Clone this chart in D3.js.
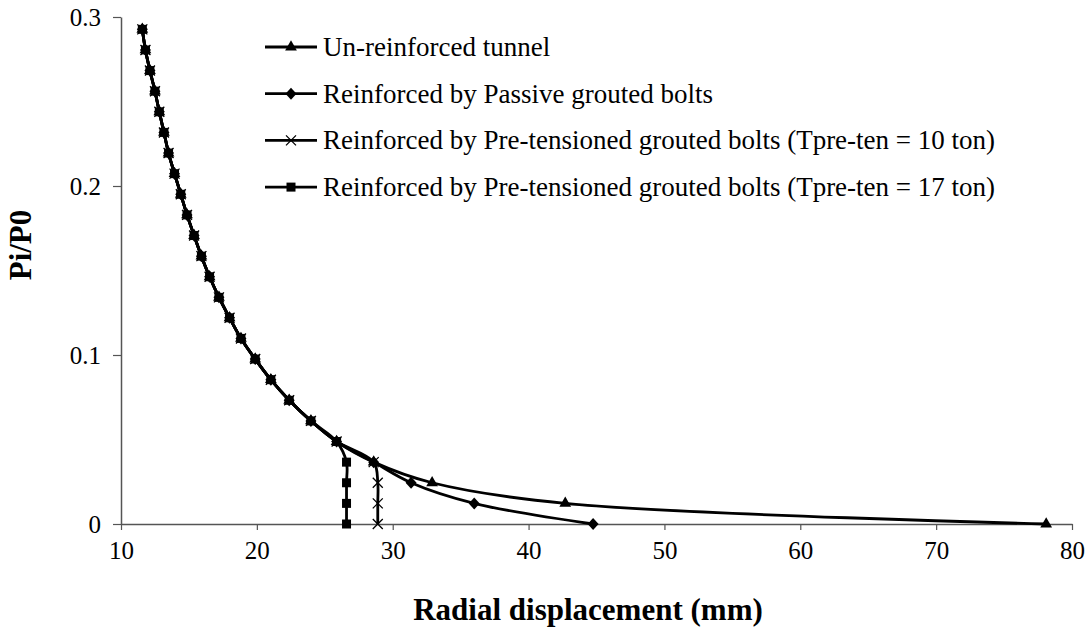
<!DOCTYPE html>
<html>
<head>
<meta charset="utf-8">
<script src="https://cdn.jsdelivr.net/npm/d3@7"></script>
<style>
  html, body { margin: 0; padding: 0; background: #fff; }
  svg { display: block; }
</style>
</head>
<body>
<div id="chart"></div>
<script>
// shared part of the curve (Pi/P0 from top down, radial displacement in mm)
const COMMON_PRESSURE = [0.2927, 0.2805, 0.2683, 0.2561, 0.2439, 0.2317, 0.2195, 0.2073, 0.1951, 0.1829,
  0.1707, 0.1585, 0.1463, 0.1341, 0.1220, 0.1098, 0.0976, 0.0854, 0.0732, 0.0610, 0.0488]
const COMMON_DISP = [11.57, 11.80, 12.13, 12.50, 12.82, 13.16, 13.50, 13.94, 14.40, 14.86,
  15.38, 15.92, 16.52, 17.21, 17.99, 18.83, 19.88, 21.03, 22.38, 23.98, 25.87]

// tail of each curve after it leaves the shared part
const TAIL_PRESSURE = [0.0366, 0.0244, 0.0122, 0]
const UNREINFORCED_TAIL = [28.6, 32.9, 42.7, 78.1]
const PASSIVE_TAIL = [28.6, 31.35, 36.0, 44.75]
const PRETEN10_TAIL = [28.6, 28.9, 28.9, 28.9]
const PRETEN17_TAIL = [26.6, 26.6, 26.6, 26.6]

const SERIES_NAMES = [
  'Un-reinforced tunnel',
  'Reinforced by Passive grouted bolts',
  'Reinforced by Pre-tensioned grouted bolts (Tpre-ten = 10 ton)',
  'Reinforced by Pre-tensioned grouted bolts (Tpre-ten = 17 ton)'
]
const SERIES_MARKERS = ['triangle', 'diamond', 'cross', 'square']

const X_TICKS = [10, 20, 30, 40, 50, 60, 70, 80]
const Y_TICKS = [0, 0.1, 0.2, 0.3]

const tails = [UNREINFORCED_TAIL, PASSIVE_TAIL, PRETEN10_TAIL, PRETEN17_TAIL]
const series = SERIES_NAMES.map((name, i) => ({
  name,
  marker: SERIES_MARKERS[i],
  points: COMMON_DISP.map((d, j) => ({ x: d, y: COMMON_PRESSURE[j] }))
    .concat(tails[i].map((d, j) => ({ x: d, y: TAIL_PRESSURE[j] })))
}))

const width = 1091
const height = 632
const font = '"Liberation Serif", "Times New Roman", serif'

const svg = d3.select('#chart').append('svg')
  .attr('width', width)
  .attr('height', height)

const x = d3.scaleLinear().domain([10, 80]).range([121, 1072])
const y = d3.scaleLinear().domain([0, 0.3]).range([524, 17])

const axisColor = '#555'

const xAxis = svg.append('g')
  .attr('transform', `translate(0,${y(0)})`)
  .call(d3.axisBottom(x).tickValues(X_TICKS).tickSize(6).tickSizeOuter(0).tickPadding(11).tickFormat(d3.format('d')))
xAxis.select('.domain').attr('stroke', axisColor).attr('stroke-width', 1.5)
xAxis.selectAll('.tick line').attr('stroke', axisColor).attr('stroke-width', 1.2)
xAxis.selectAll('text').attr('fill', '#000').style('font-family', font).style('font-size', '25px')

const yAxis = svg.append('g')
  .attr('transform', `translate(${x(10)},0)`)
  .call(d3.axisLeft(y).tickValues(Y_TICKS).tickSize(8).tickSizeOuter(0).tickPadding(12)
    .tickFormat((d) => (d === 0 ? '0' : d3.format('.1f')(d))))
yAxis.select('.domain').attr('stroke', axisColor).attr('stroke-width', 1.5)
yAxis.selectAll('.tick line').attr('stroke', axisColor).attr('stroke-width', 1.2)
yAxis.selectAll('text').attr('fill', '#000').style('font-family', font).style('font-size', '25px')

const line = d3.line()
  .x((d) => x(d.x))
  .y((d) => y(d.y))
  .curve(d3.curveCatmullRom.alpha(0.5))

function drawMarker(g, type) {
  if (type === 'triangle') {
    g.append('path').attr('d', d3.symbol(d3.symbolTriangle, 60)()).attr('fill', '#000')
  } else if (type === 'diamond') {
    g.append('path').attr('d', 'M0,-6L5.5,0L0,6L-5.5,0Z').attr('fill', '#000')
  } else if (type === 'cross') {
    g.append('path').attr('d', 'M-5,-5L5,5M-5,5L5,-5').attr('stroke', '#000').attr('stroke-width', 1.3).attr('fill', 'none')
  } else {
    g.append('rect').attr('x', -4.5).attr('y', -4.5).attr('width', 9).attr('height', 9).attr('fill', '#000')
  }
}

const plot = svg.append('g')

series.forEach((s) => {
  plot.append('path')
    .attr('d', line(s.points))
    .attr('fill', 'none')
    .attr('stroke', '#000')
    .attr('stroke-width', 2.8)
})

series.forEach((s) => {
  plot.append('g')
    .selectAll('g')
    .data(s.points)
    .join('g')
    .attr('transform', (d) => `translate(${x(d.x)},${y(d.y)})`)
    .each(function () { drawMarker(d3.select(this), s.marker) })
})

// legend
const legend = svg.append('g').attr('transform', 'translate(265,47)')
const item = legend.selectAll('g')
  .data(series)
  .join('g')
  .attr('transform', (_, i) => `translate(0,${i * 46.7})`)

item.append('line')
  .attr('x1', 0).attr('x2', 52)
  .attr('stroke', '#000').attr('stroke-width', 2.8)
item.each(function (d) {
  const g = d3.select(this).append('g').attr('transform', 'translate(26,0)')
  drawMarker(g, d.marker)
})
item.append('text')
  .attr('x', 58)
  .attr('y', 9)
  .style('font-family', font)
  .style('font-size', '27px')
  .attr('fill', '#000')
  .text((d) => d.name)

svg.append('text')
  .attr('x', 588)
  .attr('y', 620)
  .attr('text-anchor', 'middle')
  .style('font-family', font)
  .style('font-size', '31px')
  .style('font-weight', 'bold')
  .text('Radial displacement (mm)')

svg.append('text')
  .attr('transform', 'translate(31,245) rotate(-90)')
  .attr('text-anchor', 'middle')
  .style('font-family', font)
  .style('font-size', '31px')
  .style('font-weight', 'bold')
  .text('Pi/P0')
</script>
</body>
</html>
